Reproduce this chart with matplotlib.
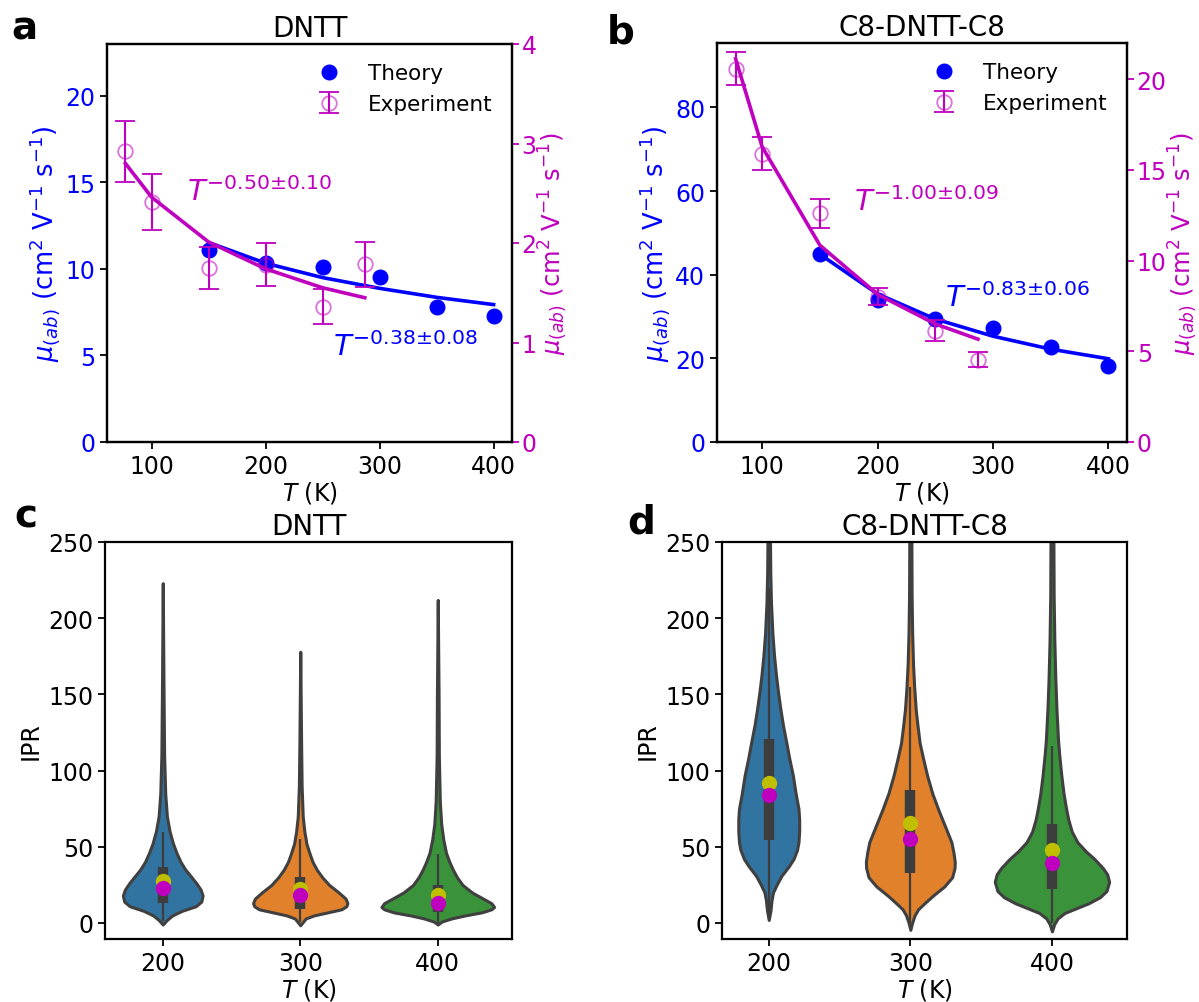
import numpy as np
import matplotlib.pyplot as plt

plt.rcParams['font.family'] = 'DejaVu Sans'
plt.rcParams['axes.linewidth'] = 1.6
plt.rcParams['xtick.major.size'] = 5
plt.rcParams['ytick.major.size'] = 5
plt.rcParams['xtick.major.width'] = 1.3
plt.rcParams['ytick.major.width'] = 1.3

# ---- mobility data (panels a, b) ----
T_theory = [150, 200, 250, 300, 350, 400]
T_exp = [77, 100, 150, 200, 250, 287]

theory_a = [11.08, 10.34, 10.09, 9.52, 7.80, 7.30]
fit_theory_a = [11.53, 10.33, 9.50, 8.88, 8.36, 7.94]
exp_a = [2.92, 2.41, 1.75, 1.78, 1.36, 1.79]
exp_a_hi = [3.23, 2.69, 1.96, 2.00, 1.54, 2.01]
exp_a_lo = [2.61, 2.13, 1.54, 1.57, 1.19, 1.56]
fit_exp_a = [2.80, 2.46, 2.01, 1.74, 1.55, 1.45]

theory_b = [44.97, 33.9, 29.5, 27.25, 22.7, 18.1]
fit_theory_b = [44.9, 35.4, 29.4, 25.3, 22.2, 19.9]
exp_b = [20.56, 15.89, 12.61, 8.02, 6.13, 4.54]
exp_b_hi = [21.48, 16.81, 13.39, 8.48, 6.72, 4.96]
exp_b_lo = [19.69, 15.02, 11.78, 7.56, 5.57, 4.13]
fit_exp_b = [21.13, 16.27, 10.85, 8.14, 6.51, 5.67]

# ---- IPR violin data (panels c, d), profiles ----
temps = ['200', '300', '400']
violin_colors = ['#3274a1', '#e1812c', '#3a923a']

c_y = [
    [-1, 2, 5, 8, 11, 14, 18, 22, 26, 30, 35, 40, 46, 52, 60, 70, 85, 110, 150, 223],
    [-1.5, 3, 5, 7, 9, 11, 13, 16, 20, 25, 30, 35, 40, 45, 52, 60, 70, 90, 120, 178],
    [-1, 1, 3, 5, 7, 9, 10.5, 13, 16, 20, 25, 30, 35, 40, 46, 55, 65, 80, 110, 150, 212],
]
c_hw = [
    [0, 0.03, 0.07, 0.14, 0.24, 0.28, 0.29, 0.275, 0.245, 0.21, 0.165, 0.13, 0.1, 0.075, 0.05, 0.03, 0.018, 0.01, 0.006, 0],
    [0, 0.04, 0.1, 0.2, 0.3, 0.335, 0.343, 0.33, 0.28, 0.21, 0.16, 0.12, 0.09, 0.07, 0.045, 0.03, 0.018, 0.01, 0.006, 0],
    [0, 0.03, 0.1, 0.2, 0.32, 0.39, 0.41, 0.39, 0.33, 0.25, 0.18, 0.14, 0.11, 0.085, 0.06, 0.04, 0.025, 0.015, 0.008, 0.006, 0],
]
c_q1 = [13.3, 9.4, 7.2]
c_q3 = [36.7, 30.2, 24.7]
c_wlo = [1, 0.5, 0]
c_whi = [60, 55, 45]
c_mean = [27.5, 22, 18.6]
c_median = [23, 18.2, 13.3]

d_y = [
    [2, 8, 15, 20, 25, 31, 37, 42, 48, 53, 60, 68, 75, 85, 97, 108, 118, 130, 140, 152, 162, 175, 190, 210, 230, 260],
    [-4.5, 0, 5, 9, 13, 18, 24, 30, 36, 40, 46, 53, 60, 68, 75, 85, 97, 108, 118, 130, 140, 155, 170, 190, 215, 260],
    [-5.5, -1, 3, 6.6, 10, 13, 17, 21, 27, 32, 36, 42, 47, 53, 60, 68, 75, 85, 97, 110, 120, 140, 160, 185, 215, 260],
]
d_hw = [
    [0, 0.012, 0.02, 0.03, 0.055, 0.09, 0.14, 0.175, 0.2, 0.21, 0.215, 0.215, 0.21, 0.19, 0.17, 0.145, 0.125, 0.1, 0.083, 0.065, 0.052, 0.038, 0.026, 0.016, 0.011, 0.008],
    [0, 0.012, 0.03, 0.055, 0.1, 0.16, 0.24, 0.295, 0.312, 0.314, 0.305, 0.29, 0.26, 0.225, 0.195, 0.155, 0.118, 0.09, 0.066, 0.05, 0.038, 0.027, 0.019, 0.013, 0.009, 0.007],
    [0, 0.015, 0.04, 0.09, 0.18, 0.26, 0.34, 0.385, 0.404, 0.39, 0.36, 0.3, 0.24, 0.18, 0.14, 0.115, 0.1, 0.082, 0.066, 0.052, 0.043, 0.032, 0.024, 0.017, 0.012, 0.01],
]
d_q1 = [54.4, 32.9, 22.4]
d_q3 = [120.6, 87.3, 65.1]
d_wlo = [3, 0, 0]
d_whi = [220, 155, 116]
d_mean = [91.7, 65.4, 48.2]
d_median = [83.8, 55.3, 39.5]

W, H = 1199, 1003
fig = plt.figure(figsize=(W / 100, H / 100), dpi=100)


def px_axes(left, top, right, bottom):
    return fig.add_axes([left / W, 1 - bottom / H, (right - left) / W, (bottom - top) / H])


FS = 17
BLUE = 'b'
MAG = 'm'
ylab = r'$\mu_{(ab)}$ (cm$^2$ V$^{-1}$ s$^{-1}$)'


def mobility_panel(ax, title, theory, fit_t, exp, hi, lo, fit_e, ylim_l, ylim_r,
                   ticks_l, ticks_r, txt_e, pos_e, txt_t, pos_t):
    ax.plot(T_theory, theory, 'o', color=BLUE, ms=10.5, label='Theory', zorder=3)
    ax.plot(T_theory, fit_t, '-', color=BLUE, lw=2.6, zorder=2)
    ax2 = ax.twinx()
    yerr = [np.array(exp) - np.array(lo), np.array(hi) - np.array(exp)]
    ax2.errorbar(T_exp, exp, yerr=yerr, fmt='o', ms=10.5, mfc='none',
                 mec=(0.75, 0, 0.75, 0.55), mew=1.3, ecolor=MAG,
                 elinewidth=1.5, capsize=7.5, capthick=1.5, label='Experiment')
    ax2.plot(T_exp, fit_e, '-', color=MAG, lw=2.6)
    ax.set_ylim(*ylim_l)
    ax2.set_ylim(*ylim_r)
    ax.set_yticks(ticks_l)
    ax2.set_yticks(ticks_r)
    ax.set_xticks([100, 200, 300, 400])
    ax.tick_params(axis='y', labelcolor=BLUE, labelsize=FS)
    ax.tick_params(axis='x', labelsize=FS)
    ax2.tick_params(axis='y', labelcolor=MAG, color=MAG, labelsize=FS, pad=2)
    ax.set_ylabel(ylab, color=BLUE, fontsize=18.5, labelpad=2)
    ax2.set_ylabel(ylab, color=MAG, fontsize=17.5, labelpad=0)
    ax.set_xlabel(r'$T$ (K)', fontsize=FS, labelpad=1)
    ax.set_title(title, fontsize=20)
    h1, l1 = ax.get_legend_handles_labels()
    h2, l2 = ax2.get_legend_handles_labels()
    ax2.legend(h1 + h2, l1 + l2, loc='upper right', frameon=False, fontsize=15.5)
    ax.text(pos_e[0], pos_e[1], txt_e, color=MAG, fontsize=21)
    ax.text(pos_t[0], pos_t[1], txt_t, color=BLUE, fontsize=21)
    return ax2


ax_a = px_axes(107, 45, 512, 443)
mobility_panel(ax_a, 'DNTT', theory_a, fit_theory_a, exp_a, exp_a_hi, exp_a_lo, fit_exp_a,
               (0, 23), (0, 4), [0, 5, 10, 15, 20], [0, 1, 2, 3, 4],
               r'$T^{-0.50{\pm}0.10}$', (131, 14.0), r'$T^{-0.38{\pm}0.08}$', (259, 5.0))

ax_b = px_axes(717, 44, 1127, 443)
mobility_panel(ax_b, 'C8-DNTT-C8', theory_b, fit_theory_b, exp_b, exp_b_hi, exp_b_lo, fit_exp_b,
               (0, 95.4), (0, 22), [0, 20, 40, 60, 80], [0, 5, 10, 15, 20],
               r'$T^{-1.00{\pm}0.09}$', (180, 55.5), r'$T^{-0.83{\pm}0.06}$', (258, 32.5))


def violin_panel(ax, title, ys, hws, q1, q3, wlo, whi, mean, median, xlim, ylim):
    for i in range(len(temps)):
        y = np.array(ys[i])
        hw = np.array(hws[i])
        ax.fill_betweenx(y, i - hw, i + hw, facecolor=violin_colors[i],
                         edgecolor='#404040', lw=2.2, zorder=2)
        ax.vlines(i, wlo[i], whi[i], color='#3d3d3d', lw=1.6, zorder=3)
        ax.vlines(i, q1[i], q3[i], color='#3d3d3d', lw=7.5, zorder=3)
    ax.plot(range(len(temps)), mean, 'o', color='y', ms=10, zorder=4)
    ax.plot(range(len(temps)), median, 'o', color=MAG, ms=10, zorder=4)
    ax.set_xticks(range(len(temps)))
    ax.set_xticklabels(temps)
    ax.set_xlim(*xlim)
    ax.set_ylim(*ylim)
    ax.set_yticks([0, 50, 100, 150, 200, 250])
    ax.tick_params(labelsize=FS)
    ax.set_xlabel(r'$T$ (K)', fontsize=FS, labelpad=1)
    ax.set_ylabel('IPR', fontsize=FS)
    ax.set_title(title, fontsize=20)


ax_c = px_axes(105, 543, 512, 940)
violin_panel(ax_c, 'DNTT', c_y, c_hw, c_q1, c_q3, c_wlo, c_whi, c_mean, c_median,
             (-0.42, 2.54), (-10.5, 250))

ax_d = px_axes(722, 543, 1127, 940)
violin_panel(ax_d, 'C8-DNTT-C8', d_y, d_hw, d_q1, d_q3, d_wlo, d_whi, d_mean, d_median,
             (-0.33, 2.53), (-10.5, 250))

for letter, x, y in [('a', 11, 39), ('b', 607, 43), ('c', 14, 528), ('d', 627, 533)]:
    fig.text(x / W, 1 - y / H, letter, fontsize=28, fontweight='bold', va='baseline')

fig.savefig('out.png', dpi=100)
